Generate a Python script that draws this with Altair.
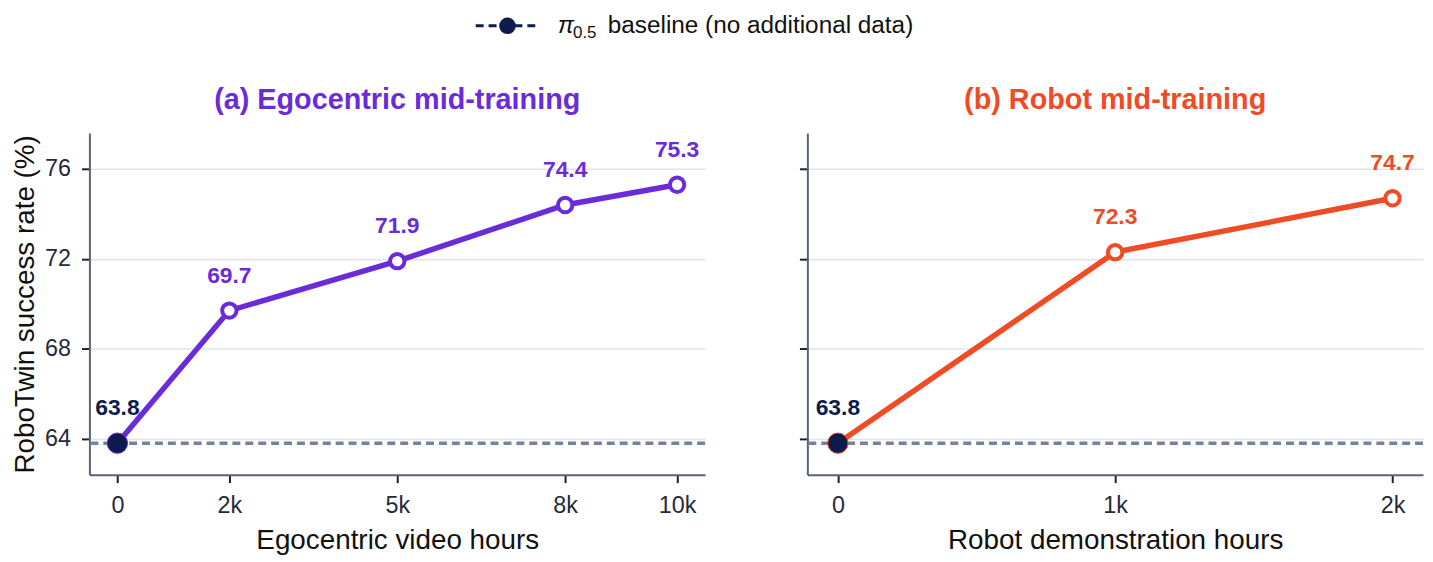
import altair as alt
import pandas as pd

# data
ego_hours = [0, 2000, 5000, 8000, 10000]
ego_rate = [63.8, 69.7, 71.9, 74.4, 75.3]
robot_hours = [0, 1000, 2000]
robot_rate = [63.8, 72.3, 74.7]
baseline_rate = 63.8
y_ticks = [64, 68, 72, 76]

PURPLE = "#6a2bd9"
ORANGE = "#ef4b24"
NAVY = "#0d1b4f"
DASH = "#7681a1"
INK = "#252a3a"
FONT = "Liberation Sans"


def panel(hours, rate, color, title, xtitle, xdomain, show_y):
    df = pd.DataFrame({"hours": hours, "rate": rate})
    x = alt.X(
        "hours:Q",
        scale=alt.Scale(domain=xdomain, nice=False, zero=False),
        axis=alt.Axis(
            values=hours,
            labelExpr="datum.value == 0 ? '0' : datum.value / 1000 + 'k'",
            title=xtitle,
            grid=False,
        ),
    )
    if show_y:
        y_axis = alt.Axis(values=y_ticks, grid=True, title="RoboTwin success rate (%)")
    else:
        y_axis = alt.Axis(values=y_ticks, grid=True, labels=False, title="")
    y = alt.Y("rate:Q", scale=alt.Scale(domain=[62.4, 77.6], nice=False, zero=False), axis=y_axis)

    base = alt.Chart(df).encode(x=x, y=y)
    rule = alt.Chart(pd.DataFrame({"rate": [baseline_rate]})).mark_rule(
        color=DASH, strokeDash=[8, 5], strokeWidth=3.5
    ).encode(y="rate:Q")
    line = base.mark_line(color=color, strokeWidth=5.5)
    open_pts = base.transform_filter("datum.hours > 0").mark_point(
        filled=True, fill="white", stroke=color, strokeWidth=4, size=210, opacity=1
    )
    base_pt = base.transform_filter("datum.hours == 0").mark_point(
        filled=True, fill=NAVY, stroke=color, strokeWidth=1, size=420, opacity=1
    )
    labels = base.mark_text(
        dy=-35, fontSize=23, fontWeight="bold", font=FONT
    ).encode(
        text=alt.Text("rate:Q", format=".1f"),
        color=alt.condition("datum.hours == 0", alt.value(NAVY), alt.value(color)),
    )
    return alt.layer(rule, line, open_pts, base_pt, labels).properties(
        width=620,
        height=344,
        title=alt.Title(title, color=color, fontSize=29, fontWeight="bold", font=FONT, offset=18),
    )


left = panel(ego_hours, ego_rate, PURPLE, "(a) Egocentric mid-training",
             "Egocentric video hours", [-500, 10500], True)
right = panel(robot_hours, robot_rate, ORANGE, "(b) Robot mid-training",
              "Robot demonstration hours", [-110, 2110], False)

# hand-made legend so the subscript in pi_0.5 can be drawn
one = pd.DataFrame({"k": [0]})
lx = 389  # legend start, relative to the legend panel
leg_line = alt.Chart(one).mark_rule(color=NAVY, strokeDash=[8, 5], strokeWidth=3).encode(
    x=alt.value(lx), x2=alt.value(lx + 64), y=alt.value(16)
)
leg_dot = alt.Chart(one).mark_point(filled=True, color=NAVY, size=280, opacity=1).encode(
    x=alt.value(lx + 32), y=alt.value(16)
)
leg_pi = alt.Chart(one).mark_text(
    text="π", font=FONT, fontSize=24, fontStyle="italic", color="#111", align="left", baseline="alphabetic"
).encode(x=alt.value(lx + 83), y=alt.value(23))
leg_sub = alt.Chart(one).mark_text(
    text="0.5", font=FONT, fontSize=17, color="#111", align="left", baseline="alphabetic"
).encode(x=alt.value(lx + 98), y=alt.value(28))
leg_txt = alt.Chart(one).mark_text(
    text="baseline (no additional data)", font=FONT, fontSize=24.5, color="#111", align="left", baseline="alphabetic"
).encode(x=alt.value(lx + 133), y=alt.value(23))
legend = alt.layer(leg_line, leg_dot, leg_pi, leg_sub, leg_txt).properties(width=1330, height=36)

chart = alt.vconcat(
    legend, alt.hconcat(left, right, spacing=92), spacing=41
).properties(
    padding={"left": 3, "top": 0, "right": 0, "bottom": 0}
).configure_view(stroke=None).configure_axis(
    domainColor="#5b6272",
    domainWidth=2,
    tickColor="#1c2030",
    tickWidth=2,
    tickSize=8,
    labelFont=FONT,
    labelFontSize=23.5,
    labelColor=INK,
    labelPadding=11,
    titleFont=FONT,
    titleFontSize=28,
    titleFontWeight="normal",
    titleColor="#111",
    gridColor="#e1e4ee",
    gridWidth=1.5,
).configure_axisX(titlePadding=10).configure_axisY(titlePadding=5)

chart.save("out.html", embed_options={"renderer": "svg", "actions": False})
